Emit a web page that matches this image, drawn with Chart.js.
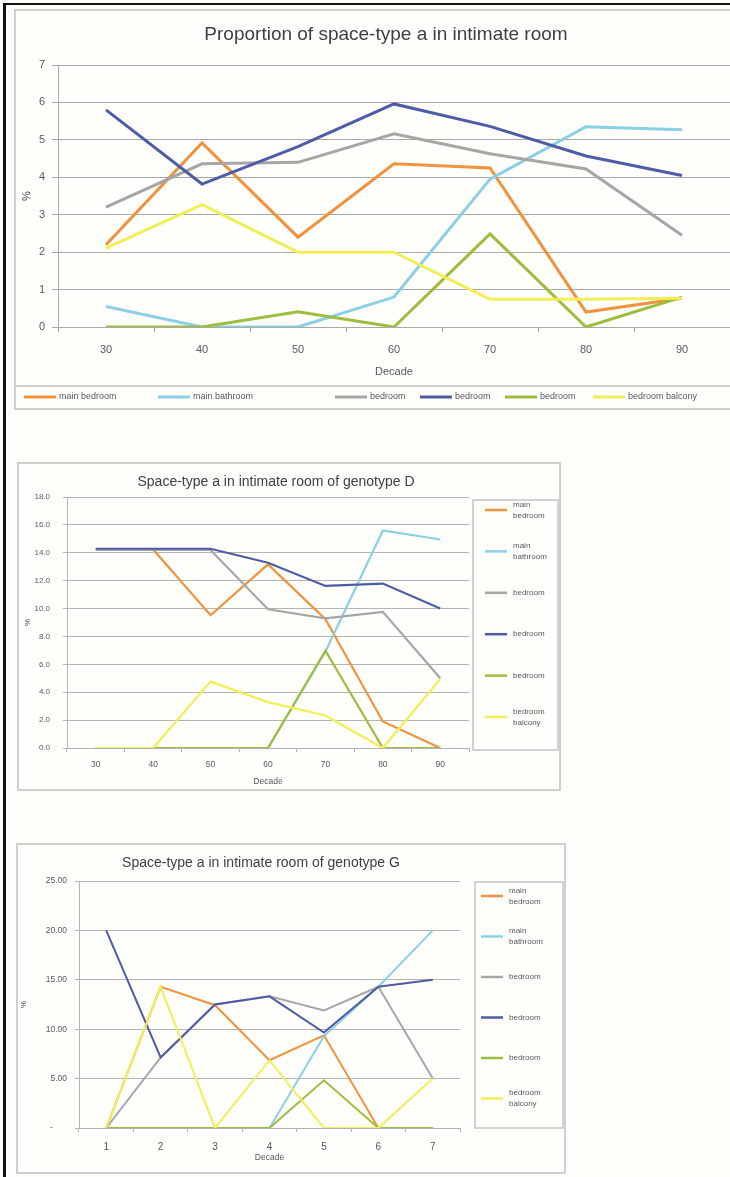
<!DOCTYPE html>
<html>
<head>
<meta charset="utf-8">
<script src="https://cdn.jsdelivr.net/npm/chart.js@4.4.0/dist/chart.umd.min.js"></script>
<style>
  html, body { margin: 0; padding: 0; background: #fdfdf9; }
  #page { position: relative; width: 730px; height: 1177px; overflow: hidden; background: #fdfdf9; }
  .edge-top { position: absolute; left: 3px; top: 3px; width: 727px; height: 2px; background: #111; }
  .edge-left { position: absolute; left: 3px; top: 3px; width: 3px; height: 1174px; background: #111; }
  .frame { position: absolute; box-sizing: border-box; border: 2px solid #cfcfcf; background: #fefefb; }
  canvas { position: absolute; }
</style>
</head>
<body>
<div id="page">
  <div class="edge-top"></div>
  <div class="edge-left"></div>
  <div class="frame" style="left:14px;top:9px;width:740px;height:401px;"></div>
  <div class="frame" style="left:17px;top:462px;width:544px;height:329px;"></div>
  <div class="frame" style="left:16px;top:843px;width:550px;height:331px;"></div>
  <canvas id="overall" width="742" height="398" style="left:15px;top:10px;"></canvas>
  <canvas id="genoD" width="542" height="327" style="left:18px;top:463px;"></canvas>
  <canvas id="genoG" width="548" height="329" style="left:17px;top:844px;"></canvas>
</div>
<script>
// ---- data ----
const decades = ['30', '40', '50', '60', '70', '80', '90'];
const decadeSteps = ['1', '2', '3', '4', '5', '6', '7'];
const seriesNames = ['main bedroom', 'main bathroom', 'bedroom', 'bedroom', 'bedroom', 'bedroom balcony'];

// share of space-type a in the intimate room, all genotypes (%)
const allMainBedroom  = [2.2, 4.92, 2.4, 4.36, 4.25, 0.4, 0.77];
const allMainBathroom = [0.55, 0, 0, 0.8, 3.95, 5.35, 5.27];
const allBedroomGrey  = [3.2, 4.36, 4.4, 5.16, 4.63, 4.22, 2.45];
const allBedroomBlue  = [5.8, 3.82, 4.82, 5.96, 5.36, 4.57, 4.05];
const allBedroomGreen = [0, 0, 0.41, 0, 2.49, 0, 0.8];
const allBalcony      = [2.11, 3.27, 2.0, 2.0, 0.74, 0.74, 0.77];

// genotype D (%)
const dMainBedroom  = [14.24, 14.24, 9.52, 13.17, 9.24, 1.9, 0];
const dMainBathroom = [0, 0, 0, 0, 6.9, 15.6, 14.95];
const dBedroomGrey  = [14.2, 14.2, 14.2, 9.95, 9.29, 9.76, 5.0];
const dBedroomBlue  = [14.29, 14.29, 14.29, 13.29, 11.62, 11.79, 10.0];
const dBedroomGreen = [0, 0, 0, 0, 6.98, 0, 0];
const dBalcony      = [0, 0, 4.76, 3.29, 2.33, 0, 4.95];

// genotype G (%)
const gMainBedroom  = [0, 14.29, 12.43, 6.86, 9.39, 0, 0];
const gMainBathroom = [0, 0, 0, 0, 9.3, 14.3, 20.0];
const gBedroomGrey  = [0, 7.14, 12.5, 13.33, 11.9, 14.29, 5.0];
const gBedroomBlue  = [20.0, 7.14, 12.5, 13.33, 9.66, 14.29, 15.0];
const gBedroomGreen = [0, 0, 0, 0, 4.83, 0, 0];
const gBalcony      = [0, 14.29, 0, 6.86, 0, 0, 5.0];

// ---- styling ----
const FONT = '"Liberation Sans", Arial, sans-serif';
const seriesColors = ['#f0923e', '#8ccfe4', '#a6a6a6', '#4e5ca6', '#9dbd3e', '#f2ee58'];

function buildDatasets(seriesList, width) {
  return seriesList.map((values, i) => ({
    label: seriesNames[i],
    data: values,
    borderColor: seriesColors[i],
    backgroundColor: seriesColors[i],
    borderWidth: width,
    pointRadius: 0,
    pointHoverRadius: 0,
    tension: 0,
    fill: false,
    yAxisID: 'y',
    order: seriesList.length - i   // later series drawn on top
  }));
}

// legend drawn from the chart's datasets: a row strip or a framed column
const frameLegend = {
  id: 'frameLegend',
  afterDraw(chart, args, o) {
    const ctx = chart.ctx;
    const sets = chart.data.datasets;
    ctx.save();
    ctx.font = o.fontSize + 'px ' + FONT;
    ctx.textBaseline = 'middle';
    ctx.textAlign = 'left';
    ctx.lineCap = 'butt';
    if (o.mode === 'row') {
      ctx.strokeStyle = '#cfcfcf';
      ctx.lineWidth = 2;
      ctx.beginPath();
      ctx.moveTo(0, o.ruleY);
      ctx.lineTo(chart.width, o.ruleY);
      ctx.stroke();
      sets.forEach((ds, i) => {
        const x = o.xs[i];
        ctx.strokeStyle = ds.borderColor;
        ctx.lineWidth = o.swatchWidth;
        ctx.beginPath();
        ctx.moveTo(x, o.y);
        ctx.lineTo(x + o.swatch, o.y);
        ctx.stroke();
        ctx.fillStyle = '#595959';
        ctx.fillText(ds.label, x + o.swatch + o.gap, o.y);
      });
    } else {
      const [l, t, r, b] = o.frame;
      ctx.strokeStyle = '#c4c4c4';
      ctx.lineWidth = 1.5;
      ctx.strokeRect(l, t, r - l, b - t);
      sets.forEach((ds, i) => {
        const y = o.firstY + i * o.stepY;
        ctx.strokeStyle = ds.borderColor;
        ctx.lineWidth = o.swatchWidth;
        ctx.beginPath();
        ctx.moveTo(o.lineX, y);
        ctx.lineTo(o.lineX + o.swatch, y);
        ctx.stroke();
        ctx.fillStyle = '#595959';
        const lines = ds.label.split(' ');
        lines.forEach((ln, k) => {
          ctx.fillText(ln, o.textX, y + (k - (lines.length - 1) / 2) * o.lineHeight);
        });
      });
    }
    ctx.restore();
  }
};

function makeChart(id, cfg) {
  const gridColor = cfg.gridColor;
  return new Chart(document.getElementById(id), {
    type: 'line',
    data: { labels: cfg.labels, datasets: buildDatasets(cfg.series, cfg.lineWidth) },
    plugins: [frameLegend],
    options: {
      responsive: false,
      animation: false,
      events: [],
      layout: { padding: cfg.padding },
      plugins: {
        legend: { display: false },
        tooltip: { enabled: false },
        title: {
          display: true,
          text: cfg.title,
          color: '#404040',
          font: { family: FONT, size: cfg.titleSize, weight: 'normal' },
          padding: cfg.titlePad
        },
        frameLegend: cfg.legend
      },
      scales: {
        x: {
          type: 'category',
          offset: true,
          grid: { offset: true, drawOnChartArea: false, drawTicks: true, tickLength: cfg.xTick, color: gridColor },
          border: { display: true, color: gridColor, width: 1 },
          ticks: { color: '#595959', font: { family: FONT, size: cfg.xFont }, padding: cfg.xPad, maxRotation: 0, autoSkip: false },
          title: { display: true, text: 'Decade', color: '#595959', font: { family: FONT, size: cfg.xTitleFont }, padding: { top: 0, bottom: cfg.xTitlePad } },
          afterFit(s) { s.height = cfg.xHeight; }
        },
        y: {
          type: 'linear',
          position: 'left',
          min: 0,
          max: cfg.yMax,
          ticks: { stepSize: cfg.yStep, color: '#595959', font: { family: FONT, size: cfg.yFont }, padding: cfg.yPad, callback: cfg.yFmt },
          grid: { color: gridColor, lineWidth: 1, drawTicks: true, tickLength: cfg.yTick },
          border: { display: true, color: gridColor, width: 1 },
          title: { display: true, text: '%', color: '#404040', font: { family: FONT, size: cfg.yTitleFont }, padding: { top: cfg.yTitlePad, bottom: 0 } },
          afterFit(s) { s.width = cfg.yWidth; }
        },
        yR: {
          axis: 'y',
          type: 'linear',
          position: 'right',
          display: true,
          grid: { display: false, drawTicks: false },
          border: { display: false },
          ticks: { display: false },
          afterFit(s) { s.width = cfg.rightSpace; }
        }
      }
    }
  });
}

makeChart('overall', {
  labels: decades,
  series: [allMainBedroom, allMainBathroom, allBedroomGrey, allBedroomBlue, allBedroomGreen, allBalcony],
  lineWidth: 3,
  gridColor: '#a9a9a9',
  title: 'Proportion of space-type a in intimate room',
  titleSize: 19,
  titlePad: { top: 13.6, bottom: 18.6 },
  padding: { left: 0, right: 0, top: 0, bottom: 25 },
  xTick: 5, xFont: 11, xPad: 11.4, xTitleFont: 11, xTitlePad: 4, xHeight: 56,
  yMax: 7, yStep: 1, yFont: 11, yPad: 7, yTick: 6, yWidth: 43,
  yFmt: v => String(v),
  yTitleFont: 11, yTitlePad: 5,
  rightSpace: 27,
  legend: { mode: 'row', ruleY: 376, y: 387, xs: [9, 143, 320, 405, 490, 578], swatch: 32, swatchWidth: 3, gap: 3, fontSize: 9 }
});

makeChart('genoD', {
  labels: decades,
  series: [dMainBedroom, dMainBathroom, dBedroomGrey, dBedroomBlue, dBedroomGreen, dBalcony],
  lineWidth: 2.2,
  gridColor: '#b4b4b4',
  title: 'Space-type a in intimate room of genotype D',
  titleSize: 14,
  titlePad: { top: 10.6, bottom: 6.6 },
  padding: { left: 0, right: 26, top: 0, bottom: 1 },
  xTick: 4, xFont: 8.5, xPad: 8, xTitleFont: 8.5, xTitlePad: 2, xHeight: 41,
  yMax: 18, yStep: 2, yFont: 8, yPad: 13, yTick: 4, yWidth: 49,
  yFmt: v => v.toFixed(1),
  yTitleFont: 8, yTitlePad: 5,
  rightSpace: 65,
  legend: { mode: 'column', frame: [455, 37, 540, 287], lineX: 467, swatch: 22, swatchWidth: 2.5, textX: 495, firstY: 47, stepY: 41.4, lineHeight: 11, fontSize: 8 }
});

makeChart('genoG', {
  labels: decadeSteps,
  series: [gMainBedroom, gMainBathroom, gBedroomGrey, gBedroomBlue, gBedroomGreen, gBalcony],
  lineWidth: 2,
  gridColor: '#b4b4b4',
  title: 'Space-type a in intimate room of genotype G',
  titleSize: 14,
  titlePad: { top: 10.6, bottom: 9.6 },
  padding: { left: 0, right: 60, top: 0, bottom: 9 },
  xTick: 4, xFont: 10, xPad: 9, xTitleFont: 8.5, xTitlePad: 1, xHeight: 36,
  yMax: 25, yStep: 5, yFont: 8.5, yPad: 8, yTick: 4, yWidth: 62,
  yFmt: v => (v === 0 ? '-      ' : v.toFixed(2)),
  yTitleFont: 8, yTitlePad: 2,
  rightSpace: 45,
  legend: { mode: 'column', frame: [458, 38, 546, 284], lineX: 464, swatch: 22, swatchWidth: 2.5, textX: 492, firstY: 52, stepY: 40.5, lineHeight: 11, fontSize: 8 }
});
</script>
</body>
</html>
